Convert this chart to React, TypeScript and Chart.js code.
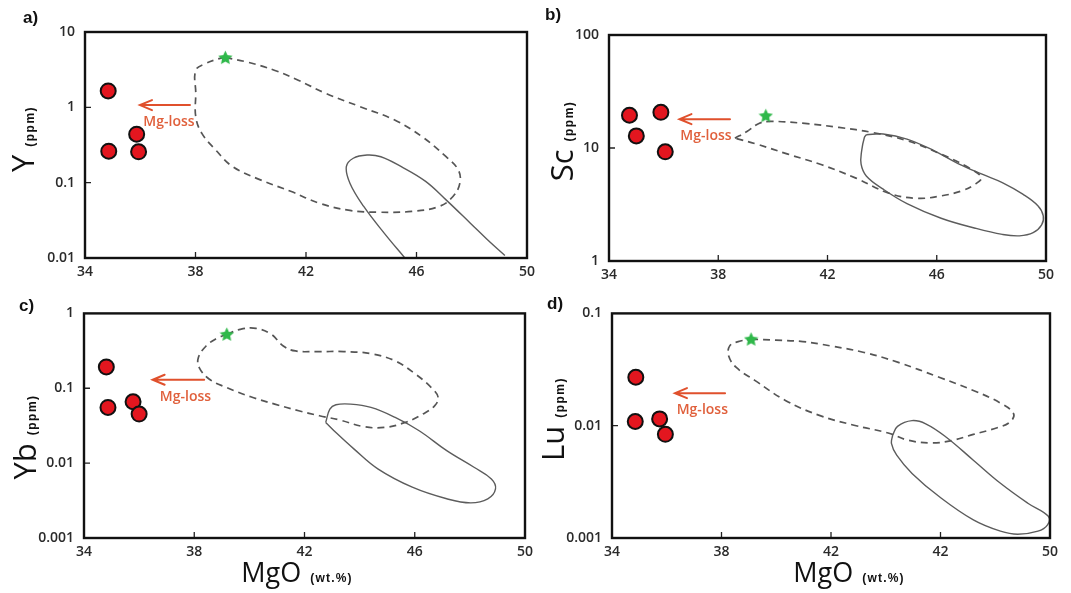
import React, { useEffect, useRef } from 'react';
import { Chart, registerables } from 'chart.js';

Chart.register(...registerables);

// ---------- shared axis data ----------
const MGO_TICKS = [34, 38, 42, 46, 50];
const MGO_TICK_LABELS = ['34', '38', '42', '46', '50'];
const MGO_TICK_LABELS_D = ['34', '38', '42', '42', '50'];

// ---------- panel a : Y ----------
const Y_TICKS = [0.01, 0.1, 1, 10];
const Y_TICK_LABELS = ['0.01', '0.1', '1', '10'];
const Y_SAMPLE_MGO = [34.84, 35.87, 34.86, 35.94];
const Y_SAMPLE_PPM = [1.65, 0.44, 0.262, 0.257];
const Y_STAR_MGO = [39.08];
const Y_STAR_PPM = [4.57];
const Y_DASHED_MGO = [39.08, 39.85, 40.85, 41.72, 42.72, 43.96, 45.21, 46.2, 47.07, 47.51, 47.57, 47.32, 46.82, 45.83, 44.58, 43.59, 42.47, 41.47, 40.35, 39.35, 38.73, 38.23, 38.01, 38.01, 38.01, 38.36, 38.86, 39.08];
const Y_DASHED_PPM = [4.57, 4.01, 3.11, 2.29, 1.53, 1.02, 0.678, 0.408, 0.221, 0.148, 0.0984, 0.0655, 0.0483, 0.0415, 0.0406, 0.0428, 0.0535, 0.0763, 0.109, 0.163, 0.272, 0.451, 0.75, 1.53, 3.11, 3.81, 4.44, 4.57];
const Y_SOLID_MGO = [45.6, 44.83, 44.09, 43.59, 43.46, 43.71, 44.21, 44.71, 45.45, 46.33, 47.07, 47.95, 48.57, 49.2];
const Y_SOLID_PPM = [0.0098, 0.0214, 0.0483, 0.0984, 0.163, 0.211, 0.233, 0.221, 0.163, 0.104, 0.0591, 0.029, 0.0175, 0.0108];
const Y_ARROW_MGO = [37.8, 35.99];
const Y_ARROW_PPM = [1.07, 1.07];
const Y_LABEL_MGO = [37.04];
const Y_LABEL_PPM = [0.64];

// ---------- panel b : Sc ----------
const SC_TICKS = [1, 10, 100];
const SC_TICK_LABELS = ['1', '10', '100'];
const SC_SAMPLE_MGO = [34.75, 35.9, 35.0, 36.06];
const SC_SAMPLE_PPM = [19.5, 20.7, 12.8, 9.25];
const SC_STAR_MGO = [39.74];
const SC_STAR_PPM = [19.3];
const SC_DASHED_MGO = [38.61, 39.05, 39.49, 39.92, 41.17, 42.42, 43.66, 44.91, 46.16, 47.16, 47.63, 47.41, 46.91, 46.16, 45.29, 44.29, 43.04, 41.79, 40.55, 39.42, 38.61];
const SC_DASHED_PPM = [12.2, 14.0, 16.5, 17.2, 16.5, 15.2, 13.7, 11.6, 8.82, 6.71, 5.48, 4.79, 4.17, 3.77, 3.59, 3.95, 5.41, 7.1, 8.82, 10.8, 12.2];
const SC_SOLID_MGO = [43.42, 44.04, 44.91, 45.91, 46.78, 47.66, 48.4, 49.15, 49.71, 49.9, 49.84, 49.53, 49.03, 48.4, 47.41, 46.16, 44.91, 44.04, 43.42, 43.23, 43.25, 43.35, 43.42];
const SC_SOLID_PPM = [13.1, 13.3, 12.0, 9.44, 7.29, 5.86, 4.94, 3.9, 3.07, 2.51, 2.09, 1.78, 1.67, 1.72, 1.95, 2.39, 3.22, 4.32, 5.66, 7.19, 9.44, 12.4, 13.1];
const SC_ARROW_MGO = [38.43, 36.58];
const SC_ARROW_PPM = [18.0, 18.0];
const SC_LABEL_MGO = [37.55];
const SC_LABEL_PPM = [12.8];

// ---------- panel c : Yb ----------
const YB_TICKS = [0.001, 0.01, 0.1, 1];
const YB_TICK_LABELS = ['0.001', '0.01', '0.1', '1'];
const YB_SAMPLE_MGO = [34.81, 34.87, 35.78, 36.0];
const YB_SAMPLE_PPM = [0.193, 0.0555, 0.066, 0.0452];
const YB_STAR_MGO = [39.18];
const YB_STAR_PPM = [0.525];
const YB_DASHED_MGO = [39.18, 39.67, 40.24, 40.8, 41.23, 41.67, 42.42, 43.42, 44.41, 45.29, 46.03, 46.6, 46.85, 46.72, 46.29, 45.66, 44.91, 44.16, 43.29, 42.54, 41.79, 40.92, 40.05, 39.18, 38.55, 38.18, 38.15, 38.43, 38.8, 39.18];
const YB_DASHED_PPM = [0.525, 0.612, 0.631, 0.525, 0.367, 0.315, 0.309, 0.309, 0.29, 0.232, 0.154, 0.102, 0.0754, 0.0583, 0.0452, 0.035, 0.03, 0.0307, 0.0376, 0.043, 0.0501, 0.0614, 0.0769, 0.102, 0.132, 0.189, 0.257, 0.367, 0.46, 0.525];
const YB_SOLID_MGO = [42.77, 42.92, 43.14, 43.67, 44.41, 45.29, 46.16, 47.16, 48.15, 48.78, 48.93, 48.65, 48.03, 47.16, 45.91, 44.66, 43.79, 43.17, 42.77];
const YB_SOLID_PPM = [0.035, 0.0527, 0.0602, 0.0614, 0.0555, 0.0408, 0.0271, 0.0147, 0.00881, 0.00616, 0.00454, 0.00334, 0.00295, 0.00334, 0.00477, 0.00838, 0.0155, 0.025, 0.035];
const YB_ARROW_MGO = [38.36, 36.49];
const YB_ARROW_PPM = [0.13, 0.13];
const YB_LABEL_MGO = [37.68];
const YB_LABEL_PPM = [0.0769];

// ---------- panel d : Lu ----------
const LU_TICKS = [0.001, 0.01, 0.1];
const LU_TICK_LABELS = ['0.001', '0.01', '0.1'];
const LU_SAMPLE_MGO = [34.87, 34.85, 35.74, 35.95];
const LU_SAMPLE_PPM = [0.027, 0.0109, 0.0115, 0.00838];
const LU_STAR_MGO = [39.08];
const LU_STAR_PPM = [0.0589];
const LU_DASHED_MGO = [39.08, 39.98, 40.97, 41.97, 43.21, 44.46, 45.95, 47.2, 48.19, 48.67, 48.54, 48.07, 47.2, 46.45, 45.7, 44.83, 44.09, 42.84, 41.6, 40.35, 39.23, 38.54, 38.26, 38.3, 38.61, 39.08];
const LU_DASHED_PPM = [0.0589, 0.0577, 0.0561, 0.0514, 0.0449, 0.0366, 0.027, 0.0206, 0.0159, 0.0128, 0.0108, 0.00959, 0.00837, 0.00741, 0.00703, 0.00741, 0.00861, 0.0101, 0.0123, 0.0167, 0.0252, 0.033, 0.0419, 0.0514, 0.0561, 0.0589];
const LU_SOLID_MGO = [44.25, 44.43, 44.96, 45.46, 46.2, 47.2, 48.19, 49.19, 49.94, 49.91, 49.56, 48.82, 48.19, 47.2, 45.95, 44.96, 44.4, 44.21, 44.25];
const LU_SOLID_PPM = [0.0082, 0.00987, 0.0111, 0.0104, 0.00794, 0.00493, 0.00307, 0.00204, 0.00156, 0.00131, 0.00115, 0.00108, 0.00115, 0.00145, 0.00234, 0.00376, 0.00546, 0.00693, 0.0082];
const LU_ARROW_MGO = [38.13, 36.3];
const LU_ARROW_PPM = [0.0195, 0.0195];
const LU_LABEL_MGO = [37.3];
const LU_LABEL_PPM = [0.0139];

// ---------- texts ----------
const PANEL_LETTERS = ['a)', 'b)', 'c)', 'd)'];
const Y_TITLES = ['Y', 'Sc', 'Yb', 'Lu'];
const Y_UNIT = '(ppm)';
const X_TITLE = 'MgO';
const X_UNIT = '(wt.%)';
const ARROW_TEXT = 'Mg-loss';

const zip = (xs: number[], ys: number[]) => xs.map((x, i) => ({ x, y: ys[i] }));

type PanelDef = {
  canvas: { left: number; top: number; width: number; height: number };
  plot: { left: number; top: number; right: number; bottom: number };
  yMin: number; yMax: number;
  yTicks: number[]; yTickLabels: string[];
  xTickLabels: string[];
  sMgo: number[]; sPpm: number[];
  starMgo: number[]; starPpm: number[];
  dMgo: number[]; dPpm: number[];
  lMgo: number[]; lPpm: number[];
  aMgo: number[]; aPpm: number[];
  tMgo: number[]; tPpm: number[];
  letter: string; letterPos: [number, number];
  yTitle: string; yTitlePos: [number, number];
  xTitlePos: [number, number] | null;
};

const PANELS: PanelDef[] = [
  {
    canvas: { left: 0, top: 0, width: 545, height: 295 },
    plot: { left: 85, top: 32, right: 527, bottom: 258 },
    yMin: 0.01, yMax: 10, yTicks: Y_TICKS, yTickLabels: Y_TICK_LABELS, xTickLabels: MGO_TICK_LABELS,
    sMgo: Y_SAMPLE_MGO, sPpm: Y_SAMPLE_PPM, starMgo: Y_STAR_MGO, starPpm: Y_STAR_PPM,
    dMgo: Y_DASHED_MGO, dPpm: Y_DASHED_PPM, lMgo: Y_SOLID_MGO, lPpm: Y_SOLID_PPM,
    aMgo: Y_ARROW_MGO, aPpm: Y_ARROW_PPM, tMgo: Y_LABEL_MGO, tPpm: Y_LABEL_PPM,
    letter: PANEL_LETTERS[0], letterPos: [23, 18],
    yTitle: Y_TITLES[0], yTitlePos: [34, 139], xTitlePos: null,
  },
  {
    canvas: { left: 535, top: 0, width: 536, height: 295 },
    plot: { left: 609, top: 35, right: 1046, bottom: 261 },
    yMin: 1, yMax: 100, yTicks: SC_TICKS, yTickLabels: SC_TICK_LABELS, xTickLabels: MGO_TICK_LABELS,
    sMgo: SC_SAMPLE_MGO, sPpm: SC_SAMPLE_PPM, starMgo: SC_STAR_MGO, starPpm: SC_STAR_PPM,
    dMgo: SC_DASHED_MGO, dPpm: SC_DASHED_PPM, lMgo: SC_SOLID_MGO, lPpm: SC_SOLID_PPM,
    aMgo: SC_ARROW_MGO, aPpm: SC_ARROW_PPM, tMgo: SC_LABEL_MGO, tPpm: SC_LABEL_PPM,
    letter: PANEL_LETTERS[1], letterPos: [545, 15],
    yTitle: Y_TITLES[1], yTitlePos: [573, 141], xTitlePos: null,
  },
  {
    canvas: { left: 0, top: 295, width: 545, height: 298 },
    plot: { left: 84, top: 312, right: 525, bottom: 538 },
    yMin: 0.001, yMax: 1, yTicks: YB_TICKS, yTickLabels: YB_TICK_LABELS, xTickLabels: MGO_TICK_LABELS,
    sMgo: YB_SAMPLE_MGO, sPpm: YB_SAMPLE_PPM, starMgo: YB_STAR_MGO, starPpm: YB_STAR_PPM,
    dMgo: YB_DASHED_MGO, dPpm: YB_DASHED_PPM, lMgo: YB_SOLID_MGO, lPpm: YB_SOLID_PPM,
    aMgo: YB_ARROW_MGO, aPpm: YB_ARROW_PPM, tMgo: YB_LABEL_MGO, tPpm: YB_LABEL_PPM,
    letter: PANEL_LETTERS[2], letterPos: [19, 306],
    yTitle: Y_TITLES[2], yTitlePos: [36, 437], xTitlePos: [297, 582],
  },
  {
    canvas: { left: 535, top: 295, width: 536, height: 298 },
    plot: { left: 612, top: 312, right: 1050, bottom: 538 },
    yMin: 0.001, yMax: 0.1, yTicks: LU_TICKS, yTickLabels: LU_TICK_LABELS, xTickLabels: MGO_TICK_LABELS_D,
    sMgo: LU_SAMPLE_MGO, sPpm: LU_SAMPLE_PPM, starMgo: LU_STAR_MGO, starPpm: LU_STAR_PPM,
    dMgo: LU_DASHED_MGO, dPpm: LU_DASHED_PPM, lMgo: LU_SOLID_MGO, lPpm: LU_SOLID_PPM,
    aMgo: LU_ARROW_MGO, aPpm: LU_ARROW_PPM, tMgo: LU_LABEL_MGO, tPpm: LU_LABEL_PPM,
    letter: PANEL_LETTERS[3], letterPos: [547, 304],
    yTitle: Y_TITLES[3], yTitlePos: [564, 419], xTitlePos: [849, 582],
  },
];

const TICK_FONT = { family: "'Open Sans', sans-serif", size: 14, weight: 600 as any };
const TITLE_FAMILY = "'Open Sans', 'Liberation Sans', sans-serif";

function makeStar(size: number, color: string) {
  const c = document.createElement('canvas');
  c.width = size;
  c.height = size;
  const ctx = c.getContext('2d')!;
  const cx = size / 2, cy = size / 2 + 0.5, R = size / 2, r = R * 0.48;
  ctx.beginPath();
  for (let i = 0; i < 10; i++) {
    const ang = -Math.PI / 2 + (i * Math.PI) / 5;
    const rad = i % 2 === 0 ? R : r;
    ctx.lineTo(cx + rad * Math.cos(ang), cy + rad * Math.sin(ang));
  }
  ctx.closePath();
  ctx.fillStyle = color;
  ctx.fill();
  return c;
}

function Panel({ def }: { def: PanelDef }) {
  const ref = useRef<HTMLCanvasElement>(null);
  useEffect(() => {
    const canvas = ref.current!;
    const c = def.canvas;
    const padTop = def.plot.top - c.top;
    const padRight = c.left + c.width - def.plot.right;
    const yAxisW = def.plot.left - c.left;
    const xAxisH = c.top + c.height - def.plot.bottom;
    const star = makeStar(15, '#2fb84a');

    const deco = {
      id: 'deco',
      afterDraw(chart: any) {
        const ctx: CanvasRenderingContext2D = chart.ctx;
        const area = chart.chartArea;
        const xs = chart.scales.x;
        const ys = chart.scales.y;
        ctx.save();
        // inward tick marks
        ctx.strokeStyle = '#222';
        ctx.lineWidth = 1.3;
        ctx.beginPath();
        MGO_TICKS.slice(1, -1).forEach((v) => {
          const px = xs.getPixelForValue(v);
          ctx.moveTo(px, area.bottom);
          ctx.lineTo(px, area.bottom - 6);
        });
        def.yTicks.slice(1, -1).forEach((v) => {
          const py = ys.getPixelForValue(v);
          ctx.moveTo(area.left, py);
          ctx.lineTo(area.left + 6, py);
        });
        ctx.stroke();
        // frame
        ctx.strokeStyle = '#111';
        ctx.lineWidth = 2.4;
        ctx.strokeRect(area.left, area.top, area.right - area.left, area.bottom - area.top);

        // Mg-loss arrow
        const x1 = xs.getPixelForValue(def.aMgo[0]);
        const x2 = xs.getPixelForValue(def.aMgo[1]);
        const y1 = ys.getPixelForValue(def.aPpm[0]);
        const y2 = ys.getPixelForValue(def.aPpm[1]);
        ctx.strokeStyle = '#e0502c';
        ctx.lineWidth = 2;
        ctx.lineCap = 'round';
        ctx.beginPath();
        ctx.moveTo(x1, y1);
        ctx.lineTo(x2, y2);
        ctx.moveTo(x2 + 12, y2 - 5);
        ctx.lineTo(x2, y2);
        ctx.lineTo(x2 + 12, y2 + 5);
        ctx.stroke();
        ctx.fillStyle = '#e0603c';
        ctx.font = `600 14px 'Open Sans', sans-serif`;
        ctx.textAlign = 'center';
        ctx.textBaseline = 'middle';
        ctx.fillText(ARROW_TEXT, xs.getPixelForValue(def.tMgo[0]), ys.getPixelForValue(def.tPpm[0]));

        // panel letter
        ctx.fillStyle = '#111';
        ctx.font = `bold 17px 'Liberation Sans', Arial, sans-serif`;
        ctx.textAlign = 'left';
        ctx.textBaseline = 'middle';
        ctx.fillText(def.letter, def.letterPos[0] - c.left, def.letterPos[1] - c.top);

        // y title (rotated)
        const bigFont = `400 31px ${TITLE_FAMILY}`;
        const smallFont = `bold 12px 'Liberation Sans', Arial, sans-serif`;
        ctx.save();
        ctx.translate(def.yTitlePos[0] - c.left, def.yTitlePos[1] - c.top);
        ctx.rotate(-Math.PI / 2);
        ctx.textAlign = 'left';
        ctx.textBaseline = 'alphabetic';
        ctx.font = bigFont;
        const w1 = ctx.measureText(def.yTitle).width;
        ctx.font = smallFont;
        (ctx as any).letterSpacing = '1.5px';
        const w2 = ctx.measureText(Y_UNIT).width;
        const gap = 8;
        const start = -(w1 + gap + w2) / 2;
        ctx.fillText(Y_UNIT, start + w1 + gap, 0);
        (ctx as any).letterSpacing = '0px';
        ctx.font = bigFont;
        ctx.fillText(def.yTitle, start, 0);
        ctx.restore();

        // x title
        if (def.xTitlePos) {
          const bigX = `400 27px ${TITLE_FAMILY}`;
          ctx.textAlign = 'left';
          ctx.textBaseline = 'alphabetic';
          ctx.font = bigX;
          const wx1 = ctx.measureText(X_TITLE).width;
          ctx.font = smallFont;
          (ctx as any).letterSpacing = '1.2px';
          const wx2 = ctx.measureText(X_UNIT).width;
          const gx = 9;
          const sx = def.xTitlePos[0] - c.left - (wx1 + gx + wx2) / 2;
          const by = def.xTitlePos[1] - c.top;
          ctx.fillText(X_UNIT, sx + wx1 + gx, by);
          (ctx as any).letterSpacing = '0px';
          ctx.font = bigX;
          ctx.fillText(X_TITLE, sx, by);
        }
        ctx.restore();
      },
    };

    const chart = new Chart(canvas, {
      type: 'scatter',
      data: {
        datasets: [
          {
            label: 'samples',
            data: zip(def.sMgo, def.sPpm),
            pointStyle: 'circle',
            pointRadius: 7.5,
            backgroundColor: '#e3161f',
            borderColor: '#111',
            borderWidth: 2,
            showLine: false,
          },
          {
            label: 'star',
            data: zip(def.starMgo, def.starPpm),
            pointStyle: star as any,
            pointRadius: 7,
            showLine: false,
          },
          {
            label: 'dashed field',
            data: zip(def.dMgo, def.dPpm),
            showLine: true,
            pointRadius: 0,
            borderColor: '#555',
            borderWidth: 1.7,
            borderDash: [7, 5],
            tension: 0.4,
            fill: false,
          },
          {
            label: 'solid field',
            data: zip(def.lMgo, def.lPpm),
            showLine: true,
            pointRadius: 0,
            borderColor: '#5c5c5c',
            borderWidth: 1.4,
            tension: 0.4,
            fill: false,
          },
        ] as any,
      },
      options: {
        animation: false,
        responsive: false,
        maintainAspectRatio: false,
        devicePixelRatio: 1,
        events: [],
        layout: { padding: { top: padTop, right: padRight, left: 0, bottom: 0 } },
        plugins: { legend: { display: false }, tooltip: { enabled: false } },
        scales: {
          x: {
            type: 'linear',
            min: 34,
            max: 50,
            afterBuildTicks: (s: any) => {
              s.ticks = MGO_TICKS.map((v) => ({ value: v }));
            },
            afterFit: (s: any) => {
              s.height = xAxisH;
            },
            ticks: {
              autoSkip: false,
              maxRotation: 0,
              padding: 6,
              color: '#2a2a2a',
              font: TICK_FONT,
              callback: (_v: any, i: number) => def.xTickLabels[i],
            },
            grid: { display: false, drawTicks: false },
            border: { display: false },
          },
          y: {
            type: 'logarithmic',
            min: def.yMin,
            max: def.yMax,
            afterBuildTicks: (s: any) => {
              s.ticks = def.yTicks.map((v) => ({ value: v }));
            },
            afterFit: (s: any) => {
              s.width = yAxisW;
            },
            ticks: {
              autoSkip: false,
              padding: 10,
              color: '#2a2a2a',
              font: TICK_FONT,
              callback: (_v: any, i: number) => def.yTickLabels[i],
            },
            grid: { display: false, drawTicks: false },
            border: { display: false },
          },
        },
      } as any,
      plugins: [deco],
    });
    return () => chart.destroy();
  }, [def]);

  const c = def.canvas;
  return (
    <canvas
      ref={ref}
      width={c.width}
      height={c.height}
      style={{ position: 'absolute', left: c.left, top: c.top, width: c.width, height: c.height }}
    />
  );
}

export default function App() {
  return (
    <div style={{ position: 'absolute', left: 0, top: 0, width: 1071, height: 593, background: '#fff', overflow: 'hidden' }}>
      {PANELS.map((p, i) => (
        <Panel key={i} def={p} />
      ))}
    </div>
  );
}
